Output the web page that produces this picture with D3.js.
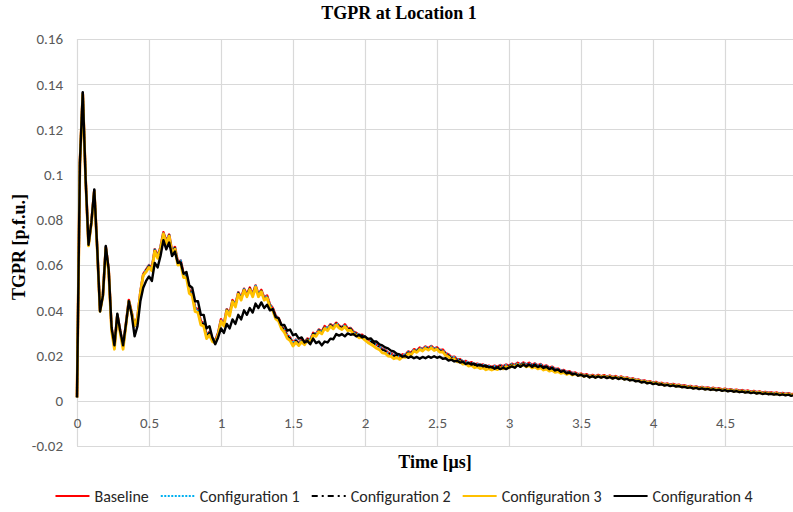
<!DOCTYPE html>
<html>
<head>
<meta charset="utf-8">
<script src="https://cdn.jsdelivr.net/npm/d3@7"></script>
<style>
  body { margin: 0; background: #fff; }
  .tick-label { font-family: Carlito, Lato, "Liberation Sans", sans-serif; font-size: 15px; fill: #595959; }
  .title-text { font-family: "Liberation Serif", "Times New Roman", serif; font-weight: bold; font-size: 18px; fill: #000; }
  .legend-text { font-family: Carlito, Lato, "Liberation Sans", sans-serif; font-size: 16px; fill: #262626; }
</style>
</head>
<body>
<div class="chart"></div>
<script>
// sampling grid of the traces, microseconds
var timeStep = 0.02;
var time = d3.range(251).map(i => +(i * timeStep).toFixed(2));

var xTicks = [0, 0.5, 1, 1.5, 2, 2.5, 3, 3.5, 4, 4.5, 5];
var yTicks = [-0.02, 0, 0.02, 0.04, 0.06, 0.08, 0.1, 0.12, 0.14, 0.16];

var seriesNames = ["Baseline", "Configuration 1", "Configuration 2", "Configuration 3", "Configuration 4"];

var baseline = [
  0.0015,0.1050,0.1360,0.0980,0.0690,0.0790,0.0930,0.0680,0.0400,0.0470,
  0.0680,0.0580,0.0320,0.0240,0.0380,0.0310,0.0240,0.0340,0.0445,0.0390,
  0.0330,0.0370,0.0480,0.0560,0.0580,0.0600,0.0585,0.0670,0.0640,0.0680,
  0.0745,0.0705,0.0735,0.0660,0.0680,0.0615,0.0620,0.0560,0.0560,0.0490,
  0.0480,0.0410,0.0405,0.0350,0.0345,0.0290,0.0305,0.0275,0.0265,0.0300,
  0.0360,0.0340,0.0405,0.0385,0.0445,0.0425,0.0480,0.0455,0.0495,0.0470,
  0.0500,0.0470,0.0510,0.0470,0.0490,0.0455,0.0465,0.0425,0.0410,0.0375,
  0.0365,0.0330,0.0315,0.0290,0.0280,0.0255,0.0270,0.0255,0.0270,0.0258,
  0.0275,0.0270,0.0300,0.0295,0.0315,0.0305,0.0330,0.0320,0.0338,0.0328,
  0.0345,0.0332,0.0325,0.0338,0.0320,0.0322,0.0305,0.0300,0.0290,0.0292,
  0.0280,0.0272,0.0265,0.0258,0.0248,0.0242,0.0228,0.0225,0.0212,0.0210,
  0.0200,0.0205,0.0195,0.0205,0.0202,0.0218,0.0212,0.0228,0.0222,0.0235,
  0.0228,0.0240,0.0232,0.0242,0.0230,0.0236,0.0224,0.0226,0.0210,0.0205,
  0.0192,0.0195,0.0182,0.0184,0.0174,0.0176,0.0166,0.0170,0.0160,0.0164,
  0.0156,0.0160,0.0150,0.0155,0.0148,0.0155,0.0150,0.0158,0.0152,0.0160,
  0.0155,0.0164,0.0158,0.0168,0.0160,0.0169,0.0160,0.0168,0.0158,0.0165,
  0.0156,0.0162,0.0152,0.0156,0.0146,0.0150,0.0140,0.0142,0.0133,0.0136,
  0.0127,0.0130,0.0122,0.0125,0.0117,0.0120,0.0113,0.0117,0.0109,0.0114,
  0.0108,0.0114,0.0108,0.0113,0.0106,0.0111,0.0104,0.0109,0.0102,0.0107,
  0.0100,0.0103,0.0096,0.0099,0.0092,0.0094,0.0087,0.0090,0.0083,0.0086,
  0.0080,0.0083,0.0077,0.0079,0.0073,0.0076,0.0071,0.0074,0.0069,0.0071,
  0.0066,0.0068,0.0063,0.0065,0.0060,0.0063,0.0058,0.0061,0.0056,0.0059,
  0.0054,0.0057,0.0052,0.0055,0.0050,0.0053,0.0048,0.0051,0.0046,0.0049,
  0.0044,0.0047,0.0042,0.0045,0.0040,0.0043,0.0038,0.0041,0.0036,0.0039,
  0.0035,0.0037,0.0033,0.0036,0.0031,0.0034,0.0030,0.0033,0.0029,0.0031,
  0.0028
];

var config1 = [
  0.0015,0.1050,0.1360,0.0980,0.0690,0.0790,0.0930,0.0680,0.0400,0.0470,
  0.0680,0.0578,0.0320,0.0240,0.0380,0.0308,0.0240,0.0340,0.0445,0.0390,
  0.0330,0.0368,0.0480,0.0558,0.0580,0.0598,0.0585,0.0668,0.0640,0.0680,
  0.0743,0.0705,0.0735,0.0658,0.0680,0.0613,0.0620,0.0558,0.0560,0.0488,
  0.0480,0.0408,0.0405,0.0348,0.0345,0.0290,0.0305,0.0275,0.0265,0.0300,
  0.0358,0.0340,0.0403,0.0385,0.0443,0.0425,0.0478,0.0455,0.0493,0.0470,
  0.0498,0.0470,0.0508,0.0470,0.0488,0.0455,0.0463,0.0425,0.0408,0.0375,
  0.0363,0.0330,0.0313,0.0290,0.0278,0.0255,0.0268,0.0255,0.0268,0.0258,
  0.0273,0.0270,0.0298,0.0295,0.0313,0.0305,0.0328,0.0320,0.0336,0.0328,
  0.0343,0.0332,0.0323,0.0336,0.0320,0.0320,0.0305,0.0298,0.0290,0.0290,
  0.0280,0.0270,0.0265,0.0256,0.0248,0.0240,0.0228,0.0223,0.0212,0.0208,
  0.0200,0.0203,0.0195,0.0203,0.0202,0.0216,0.0212,0.0226,0.0222,0.0233,
  0.0228,0.0238,0.0232,0.0240,0.0230,0.0234,0.0224,0.0224,0.0210,0.0203,
  0.0192,0.0193,0.0182,0.0182,0.0174,0.0174,0.0166,0.0168,0.0160,0.0162,
  0.0156,0.0158,0.0150,0.0153,0.0148,0.0153,0.0150,0.0156,0.0152,0.0158,
  0.0155,0.0162,0.0158,0.0166,0.0160,0.0167,0.0160,0.0166,0.0158,0.0163,
  0.0156,0.0160,0.0152,0.0154,0.0146,0.0148,0.0140,0.0140,0.0133,0.0134,
  0.0127,0.0128,0.0122,0.0123,0.0117,0.0118,0.0113,0.0115,0.0109,0.0112,
  0.0108,0.0112,0.0108,0.0111,0.0106,0.0109,0.0104,0.0107,0.0102,0.0105,
  0.0100,0.0101,0.0096,0.0097,0.0092,0.0092,0.0087,0.0088,0.0083,0.0084,
  0.0080,0.0081,0.0077,0.0077,0.0073,0.0074,0.0071,0.0072,0.0069,0.0069,
  0.0066,0.0066,0.0063,0.0063,0.0060,0.0061,0.0058,0.0059,0.0056,0.0057,
  0.0054,0.0055,0.0052,0.0053,0.0050,0.0051,0.0048,0.0049,0.0046,0.0047,
  0.0044,0.0045,0.0042,0.0043,0.0040,0.0041,0.0038,0.0039,0.0036,0.0037,
  0.0035,0.0035,0.0033,0.0034,0.0031,0.0032,0.0030,0.0031,0.0029,0.0029,
  0.0028
];

var config2 = [
  0.0015,0.1048,0.1358,0.0978,0.0690,0.0788,0.0928,0.0678,0.0400,0.0468,
  0.0678,0.0576,0.0318,0.0238,0.0378,0.0306,0.0238,0.0338,0.0443,0.0388,
  0.0331,0.0367,0.0478,0.0557,0.0577,0.0596,0.0582,0.0666,0.0637,0.0677,
  0.0742,0.0702,0.0732,0.0656,0.0677,0.0611,0.0617,0.0556,0.0557,0.0486,
  0.0476,0.0406,0.0401,0.0346,0.0341,0.0287,0.0301,0.0272,0.0262,0.0297,
  0.0356,0.0337,0.0402,0.0382,0.0442,0.0421,0.0477,0.0451,0.0492,0.0467,
  0.0497,0.0466,0.0507,0.0467,0.0487,0.0451,0.0462,0.0421,0.0406,0.0371,
  0.0361,0.0326,0.0311,0.0286,0.0276,0.0251,0.0266,0.0252,0.0266,0.0255,
  0.0272,0.0267,0.0297,0.0292,0.0312,0.0302,0.0327,0.0317,0.0335,0.0325,
  0.0342,0.0329,0.0322,0.0335,0.0317,0.0319,0.0302,0.0297,0.0287,0.0289,
  0.0277,0.0268,0.0262,0.0254,0.0245,0.0238,0.0225,0.0221,0.0209,0.0206,
  0.0197,0.0201,0.0192,0.0201,0.0199,0.0214,0.0209,0.0224,0.0219,0.0231,
  0.0225,0.0236,0.0229,0.0238,0.0227,0.0232,0.0221,0.0222,0.0207,0.0201,
  0.0189,0.0191,0.0179,0.0180,0.0171,0.0172,0.0163,0.0166,0.0157,0.0160,
  0.0153,0.0156,0.0147,0.0151,0.0145,0.0151,0.0147,0.0154,0.0149,0.0156,
  0.0152,0.0160,0.0155,0.0164,0.0157,0.0165,0.0157,0.0164,0.0155,0.0161,
  0.0153,0.0158,0.0149,0.0152,0.0143,0.0146,0.0137,0.0138,0.0130,0.0132,
  0.0124,0.0126,0.0119,0.0121,0.0114,0.0116,0.0110,0.0113,0.0106,0.0110,
  0.0105,0.0110,0.0105,0.0109,0.0103,0.0107,0.0101,0.0105,0.0099,0.0103,
  0.0097,0.0099,0.0093,0.0095,0.0089,0.0090,0.0084,0.0086,0.0080,0.0082,
  0.0077,0.0079,0.0074,0.0075,0.0070,0.0072,0.0068,0.0070,0.0066,0.0067,
  0.0063,0.0064,0.0060,0.0061,0.0057,0.0059,0.0055,0.0057,0.0053,0.0055,
  0.0051,0.0053,0.0049,0.0051,0.0047,0.0049,0.0045,0.0047,0.0043,0.0045,
  0.0041,0.0043,0.0039,0.0041,0.0037,0.0039,0.0035,0.0037,0.0033,0.0035,
  0.0032,0.0033,0.0030,0.0032,0.0028,0.0030,0.0027,0.0029,0.0026,0.0027,
  0.0025
];

var config3 = [
  0.0015,0.1045,0.1355,0.0975,0.0685,0.0785,0.0925,0.0675,0.0395,0.0465,
  0.0675,0.0570,0.0310,0.0228,0.0375,0.0300,0.0228,0.0335,0.0440,0.0385,
  0.0332,0.0365,0.0475,0.0555,0.0570,0.0590,0.0575,0.0662,0.0630,0.0672,
  0.0738,0.0695,0.0728,0.0650,0.0670,0.0600,0.0605,0.0545,0.0545,0.0475,
  0.0465,0.0395,0.0390,0.0335,0.0330,0.0275,0.0290,0.0262,0.0255,0.0292,
  0.0352,0.0330,0.0398,0.0375,0.0438,0.0415,0.0472,0.0445,0.0488,0.0460,
  0.0492,0.0460,0.0502,0.0460,0.0482,0.0445,0.0455,0.0412,0.0398,0.0362,
  0.0352,0.0318,0.0302,0.0276,0.0266,0.0242,0.0258,0.0244,0.0260,0.0248,
  0.0266,0.0260,0.0290,0.0285,0.0305,0.0296,0.0320,0.0310,0.0330,0.0318,
  0.0336,0.0322,0.0315,0.0328,0.0310,0.0312,0.0294,0.0290,0.0278,0.0280,
  0.0268,0.0258,0.0250,0.0242,0.0232,0.0226,0.0212,0.0210,0.0198,0.0196,
  0.0186,0.0192,0.0183,0.0194,0.0192,0.0208,0.0203,0.0220,0.0214,0.0227,
  0.0220,0.0232,0.0224,0.0234,0.0222,0.0228,0.0215,0.0216,0.0200,0.0195,
  0.0182,0.0185,0.0172,0.0173,0.0162,0.0164,0.0153,0.0156,0.0146,0.0150,
  0.0142,0.0146,0.0137,0.0142,0.0136,0.0142,0.0138,0.0146,0.0141,0.0150,
  0.0146,0.0155,0.0150,0.0160,0.0152,0.0160,0.0150,0.0156,0.0145,0.0150,
  0.0141,0.0146,0.0136,0.0140,0.0131,0.0135,0.0126,0.0129,0.0121,0.0125,
  0.0117,0.0122,0.0114,0.0119,0.0112,0.0115,0.0108,0.0112,0.0105,0.0110,
  0.0104,0.0110,0.0104,0.0109,0.0102,0.0107,0.0100,0.0105,0.0098,0.0103,
  0.0096,0.0099,0.0092,0.0095,0.0088,0.0090,0.0083,0.0086,0.0079,0.0082,
  0.0076,0.0079,0.0073,0.0075,0.0069,0.0072,0.0067,0.0070,0.0065,0.0067,
  0.0062,0.0064,0.0059,0.0061,0.0056,0.0059,0.0054,0.0057,0.0052,0.0055,
  0.0050,0.0053,0.0048,0.0051,0.0046,0.0049,0.0044,0.0047,0.0042,0.0045,
  0.0040,0.0043,0.0038,0.0041,0.0036,0.0039,0.0034,0.0037,0.0032,0.0035,
  0.0031,0.0033,0.0029,0.0032,0.0027,0.0030,0.0026,0.0029,0.0025,0.0027,
  0.0024
];

var config4 = [
  0.0015,0.1050,0.1365,0.0980,0.0690,0.0790,0.0935,0.0680,0.0395,0.0465,
  0.0685,0.0580,0.0325,0.0245,0.0385,0.0310,0.0245,0.0340,0.0440,0.0380,
  0.0285,0.0330,0.0440,0.0500,0.0530,0.0550,0.0530,0.0610,0.0590,0.0640,
  0.0710,0.0670,0.0700,0.0640,0.0660,0.0610,0.0612,0.0562,0.0570,0.0510,
  0.0500,0.0440,0.0440,0.0380,0.0380,0.0320,0.0330,0.0280,0.0250,0.0280,
  0.0320,0.0300,0.0340,0.0320,0.0360,0.0340,0.0380,0.0360,0.0400,0.0380,
  0.0410,0.0390,0.0430,0.0410,0.0435,0.0410,0.0425,0.0400,0.0405,0.0370,
  0.0365,0.0335,0.0335,0.0310,0.0315,0.0290,0.0295,0.0275,0.0280,0.0258,
  0.0265,0.0250,0.0275,0.0255,0.0262,0.0245,0.0262,0.0258,0.0275,0.0272,
  0.0295,0.0288,0.0295,0.0285,0.0298,0.0292,0.0295,0.0285,0.0292,0.0280,
  0.0285,0.0274,0.0276,0.0262,0.0262,0.0250,0.0245,0.0236,0.0232,0.0222,
  0.0218,0.0208,0.0205,0.0195,0.0198,0.0190,0.0196,0.0188,0.0194,0.0186,
  0.0194,0.0188,0.0196,0.0190,0.0197,0.0190,0.0195,0.0186,0.0188,0.0178,
  0.0182,0.0174,0.0177,0.0169,0.0172,0.0163,0.0167,0.0160,0.0164,0.0155,
  0.0160,0.0152,0.0156,0.0148,0.0150,0.0142,0.0147,0.0140,0.0146,0.0140,
  0.0147,0.0152,0.0146,0.0158,0.0150,0.0160,0.0152,0.0160,0.0150,0.0157,
  0.0149,0.0155,0.0145,0.0150,0.0140,0.0145,0.0134,0.0138,0.0128,0.0132,
  0.0121,0.0125,0.0116,0.0120,0.0111,0.0115,0.0107,0.0112,0.0103,0.0109,
  0.0102,0.0108,0.0102,0.0107,0.0100,0.0105,0.0098,0.0103,0.0096,0.0101,
  0.0094,0.0097,0.0090,0.0093,0.0086,0.0088,0.0081,0.0084,0.0077,0.0080,
  0.0074,0.0077,0.0071,0.0073,0.0067,0.0070,0.0065,0.0068,0.0063,0.0065,
  0.0060,0.0062,0.0057,0.0059,0.0054,0.0057,0.0052,0.0055,0.0050,0.0053,
  0.0048,0.0051,0.0046,0.0049,0.0044,0.0047,0.0042,0.0045,0.0040,0.0043,
  0.0038,0.0041,0.0036,0.0039,0.0034,0.0037,0.0032,0.0035,0.0030,0.0033,
  0.0029,0.0031,0.0027,0.0030,0.0025,0.0028,0.0024,0.0027,0.0022,0.0025,
  0.0021
];

var svgWidth = 793;
var svgHeight = 512;

var margin = { top: 39, right: -4, bottom: 66, left: 77 };
var width = svgWidth - margin.left - margin.right;
var height = svgHeight - margin.top - margin.bottom;

var svg = d3.select(".chart")
  .append("svg")
  .attr("width", svgWidth)
  .attr("height", svgHeight);

var chartGroup = svg.append("g")
  .attr("transform", `translate(${margin.left}, ${margin.top})`);

var xScale = d3.scaleLinear().domain([0, 5]).range([0, width]);
var yScale = d3.scaleLinear().domain([-0.02, 0.16]).range([height, 0]);

// gridlines
chartGroup.append("g")
  .selectAll("line")
  .data(yTicks)
  .enter()
  .append("line")
  .attr("x1", 0)
  .attr("x2", width)
  .attr("y1", d => Math.round(yScale(d)) + 0.5)
  .attr("y2", d => Math.round(yScale(d)) + 0.5)
  .attr("stroke", "#d9d9d9")
  .attr("stroke-width", 1.2);

chartGroup.append("g")
  .selectAll("line")
  .data(xTicks)
  .enter()
  .append("line")
  .attr("x1", d => Math.round(xScale(d)) + 0.5)
  .attr("x2", d => Math.round(xScale(d)) + 0.5)
  .attr("y1", 0)
  .attr("y2", height)
  .attr("stroke", "#d9d9d9")
  .attr("stroke-width", 1.2);

// x axis labels sit under the zero line
var bottomAxis = d3.axisBottom(xScale)
  .tickValues(xTicks)
  .tickSize(0)
  .tickPadding(17)
  .tickFormat(d => String(d));

var xAxis = chartGroup.append("g")
  .attr("transform", `translate(0, ${yScale(0)})`)
  .call(bottomAxis);
xAxis.select(".domain").remove();
xAxis.selectAll("text").attr("class", "tick-label").attr("fill", null);

var leftAxis = d3.axisLeft(yScale)
  .tickValues(yTicks)
  .tickSize(0)
  .tickPadding(14)
  .tickFormat(d => String(+d.toFixed(2)));

var yAxis = chartGroup.append("g").call(leftAxis);
yAxis.select(".domain").remove();
yAxis.selectAll("text").attr("class", "tick-label").attr("fill", null);

// traces, drawn in legend order so the black one ends on top
var styles = [
  { data: baseline, color: "#ff0000", width: 2.6, dash: null, key: null },
  { data: config1, color: "#00b0f0", width: 2.4, dash: "1.5,1.5", key: "2,1.5" },
  { data: config2, color: "#000000", width: 1.8, dash: "6,3,1.5,3", key: "6,4,2,4" },
  { data: config3, color: "#ffc000", width: 2.8, dash: null, key: null },
  { data: config4, color: "#000000", width: 2.4, dash: null, key: null }
];

var line = d3.line()
  .x((d, i) => xScale(time[i]))
  .y(d => yScale(d));

styles.forEach(function(s) {
  chartGroup.append("path")
    .datum(s.data)
    .attr("fill", "none")
    .attr("stroke", s.color)
    .attr("stroke-width", s.width)
    .attr("stroke-linejoin", "round")
    .attr("stroke-dasharray", s.dash)
    .attr("d", line);
});

// titles
svg.append("text")
  .attr("class", "title-text")
  .attr("x", 399)
  .attr("y", 19)
  .attr("text-anchor", "middle")
  .text("TGPR at Location 1");

svg.append("text")
  .attr("class", "title-text")
  .attr("x", 435)
  .attr("y", 468)
  .attr("text-anchor", "middle")
  .text("Time [μs]");

svg.append("text")
  .attr("class", "title-text")
  .attr("transform", "translate(25, 247) rotate(-90)")
  .attr("text-anchor", "middle")
  .text("TGPR [p.f.u.]");

// legend
var legend = svg.append("g");
var sampleLen = 34, sampleGap = 5, itemGap = 12;
var cursor = 0;
styles.forEach(function(s, i) {
  var item = legend.append("g").attr("transform", `translate(${cursor}, 0)`);
  item.append("line")
    .attr("x1", 0).attr("x2", sampleLen)
    .attr("y1", 0).attr("y2", 0)
    .attr("stroke", s.color)
    .attr("stroke-width", 2)
    .attr("stroke-dasharray", s.key);
  var t = item.append("text")
    .attr("class", "legend-text")
    .attr("x", sampleLen + sampleGap)
    .attr("y", 5.5)
    .text(seriesNames[i]);
  cursor += sampleLen + sampleGap + t.node().getComputedTextLength() + itemGap;
});
var legendWidth = cursor - itemGap;
legend.attr("transform", `translate(${404 - legendWidth / 2}, 496)`);
</script>
</body>
</html>
